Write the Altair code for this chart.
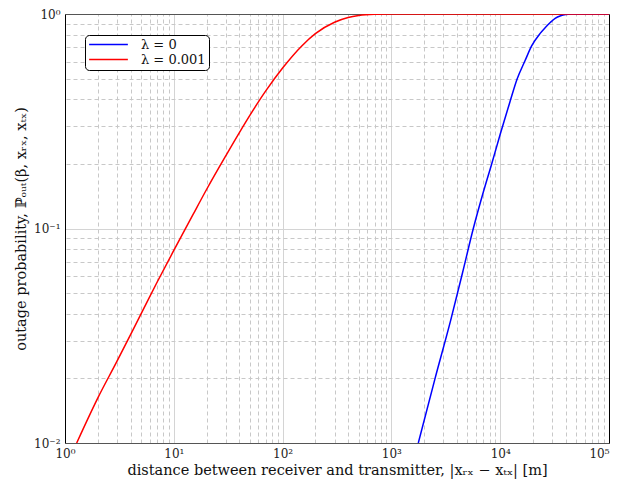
import altair as alt
import pandas as pd

# distance [m] and outage probability
red_x = [1.28, 2, 3, 5, 7, 10, 15, 20, 30, 50, 70, 100, 150, 200, 300, 400, 500, 700, 1000, 100000]
red_y = [0.01, 0.0162, 0.024, 0.040, 0.056, 0.079, 0.116, 0.152, 0.218, 0.337, 0.438, 0.56, 0.71, 0.81, 0.915, 0.963, 0.984, 0.997, 1.0, 1.0]

blue_x = [1767, 2500, 3510, 4500, 5660, 7000, 8350, 10000, 12300, 14360, 16900, 19450, 23200, 26000, 29000, 32000, 36000, 40000, 45000, 100000]
blue_y = [0.01, 0.0197, 0.0374, 0.062, 0.1, 0.148, 0.2, 0.275, 0.39, 0.5, 0.605, 0.71, 0.81, 0.865, 0.915, 0.955, 0.982, 0.995, 1.0, 1.0]

series = ["λ = 0", "λ = 0.001"]
colors = ["#0000ff", "#ff0000"]

x_major = [1, 10, 100, 1000, 10000, 100000]
y_major = [0.01, 0.1, 1]
x_minor = [k * 10 ** e for e in range(0, 5) for k in range(2, 10)]
y_minor = [round(k * 10.0 ** e, 4) for e in (-2, -1) for k in range(2, 10)]

df = pd.concat([
    pd.DataFrame({"d": blue_x, "p": blue_y, "s": series[0], "o": range(len(blue_x))}),
    pd.DataFrame({"d": red_x, "p": red_y, "s": series[1], "o": range(len(red_x))}),
])

FONT = "DejaVu Serif"
xscale = alt.Scale(type="log", domain=[1, 100000], nice=False)
yscale = alt.Scale(type="log", domain=[0.01, 1], nice=False)

x_lab = "['10⁰','10¹','10²','10³','10⁴','10⁵'][round(log(datum.value)/LN10)]"
y_lab = "datum.value >= 0.5 ? '10⁰' : (datum.value >= 0.05 ? '10⁻¹' : '10⁻²')"

minor = alt.Chart(df).mark_line(opacity=0).encode(
    x=alt.X("d:Q", scale=xscale, axis=alt.Axis(
        orient="top", values=x_minor, labels=False, ticks=False, title=None,
        grid=True, gridDash=[4, 3], gridColor="#c8c8c8", gridWidth=1,
        domainColor="#555555", domainWidth=1, zindex=0)),
    y=alt.Y("p:Q", scale=yscale, axis=alt.Axis(
        orient="right", values=y_minor, labels=False, ticks=False, title=None,
        grid=True, gridDash=[4, 3], gridColor="#c8c8c8", gridWidth=1,
        domainColor="#000000", domainWidth=1, zindex=0)),
    detail="s:N",
)

main = alt.Chart(df).mark_line(strokeWidth=1.5, clip=True, interpolate="monotone").encode(
    x=alt.X("d:Q", scale=xscale, axis=alt.Axis(
        orient="bottom", values=x_major, labelExpr=x_lab, labelFlush=False,
        labelAlign=alt.ExprRef("datum.value > 50000 ? 'right' : 'center'"),
        ticks=False, grid=True, gridColor="#d4d4d4", gridWidth=1,
        domainColor="#555555", domainWidth=1, labelPadding=5,
        labelFont=FONT, labelFontSize=12, labelColor="#222222",
        title="distance between receiver and transmitter, |xᵣₓ − xₜₓ| [m]",
        titleFont=FONT, titleFontSize=14.5, titleFontWeight="normal", titleColor="#111111",
        titlePadding=4, zindex=0)),
    y=alt.Y("p:Q", scale=yscale, axis=alt.Axis(
        orient="left", values=y_major, labelExpr=y_lab,
        ticks=False, grid=True, gridColor="#d4d4d4", gridWidth=1,
        domainColor="#000000", domainWidth=1, labelPadding=5,
        labelFont=FONT, labelFontSize=12, labelColor="#222222",
        title="outage probability, ℙₒᵤₜ(β, xᵣₓ, xₜₓ)",
        titleFont=FONT, titleFontSize=14.5, titleFontWeight="normal", titleColor="#111111",
        titlePadding=5, zindex=0)),
    color=alt.Color("s:N", scale=alt.Scale(domain=series, range=colors), legend=alt.Legend(
        title=None, orient="none", legendX=20, legendY=21,
        symbolType="stroke", symbolSize=1500, symbolStrokeWidth=1.5, clipHeight=13,
        labelFont=FONT, labelFontSize=13, labelColor="#111111",
        strokeColor="#000000", fillColor="#ffffff", cornerRadius=4, padding=3,
        rowPadding=1, labelOffset=12)),
    order="o:Q",
)

chart = alt.layer(minor, main).resolve_axis(x="independent", y="independent").properties(
    width=544, height=429,
    autosize=alt.AutoSizeParams(type="none"),
    padding={"left": 65, "top": 14, "right": 9, "bottom": 45},
    background="white",
).configure_view(stroke="transparent")

chart.save("out.html", embed_options={"renderer": "svg", "actions": False})
